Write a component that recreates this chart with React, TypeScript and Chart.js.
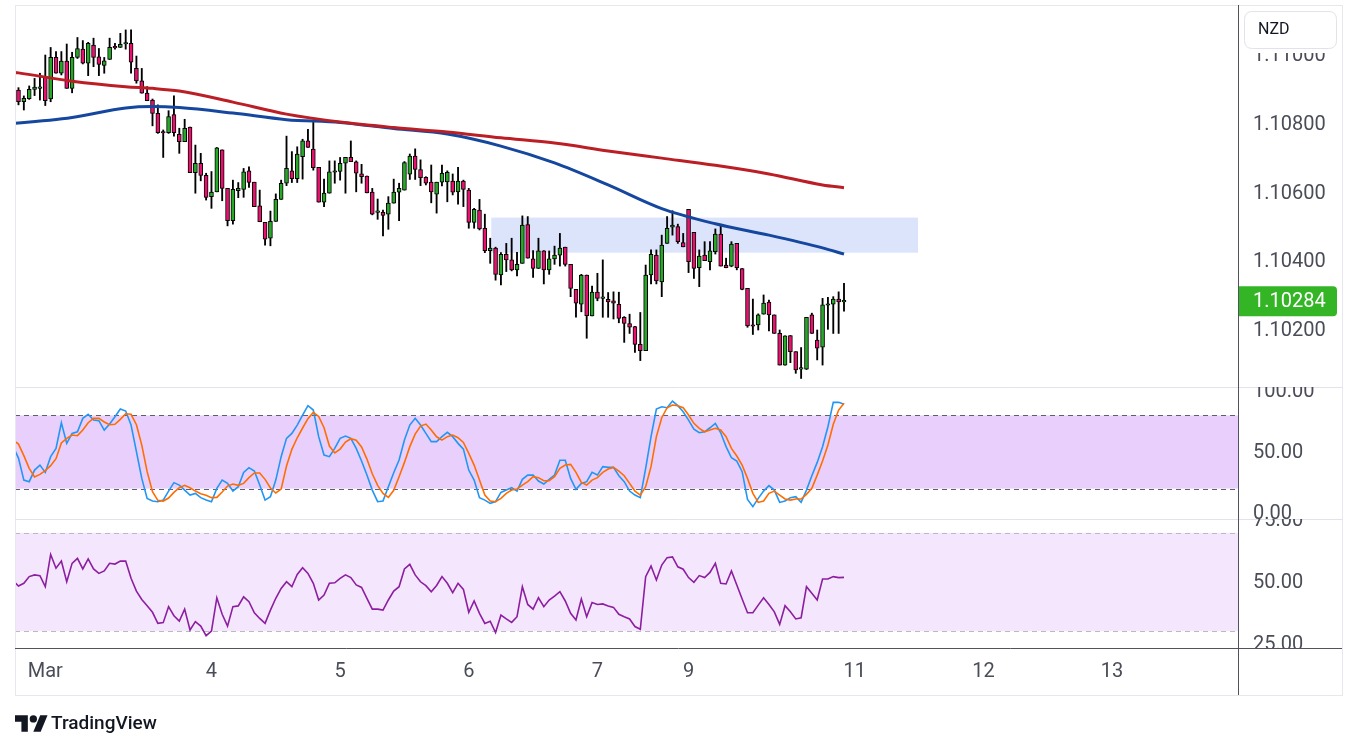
import React, { useEffect, useRef } from 'react';
import { Chart, registerables } from 'chart.js';

Chart.register(...registerables);

// ---------- DATA ----------
const OPEN = [
  1.10898, 1.10864, 1.10873, 1.10900, 1.10903, 1.10935, 1.10872, 1.10993, 1.10947, 1.10982,
  1.10903, 1.10993, 1.11017, 1.10976, 1.11029, 1.10995, 1.10970, 1.10987, 1.11022, 1.11022,
  1.11032, 1.11034, 1.10961, 1.10925, 1.10889, 1.10869, 1.10830, 1.10774, 1.10774, 1.10827,
  1.10769, 1.10748, 1.10790, 1.10658, 1.10685, 1.10650, 1.10588, 1.10602, 1.10724, 1.10612,
  1.10518, 1.10605, 1.10609, 1.10663, 1.10630, 1.10561, 1.10513, 1.10467, 1.10516, 1.10580,
  1.10627, 1.10663, 1.10640, 1.10704, 1.10750, 1.10726, 1.10673, 1.10572, 1.10598, 1.10659,
  1.10661, 1.10685, 1.10702, 1.10689, 1.10654, 1.10648, 1.10601, 1.10542, 1.10542, 1.10537,
  1.10569, 1.10601, 1.10607, 1.10653, 1.10706, 1.10667, 1.10644, 1.10630, 1.10595, 1.10630,
  1.10631, 1.10633, 1.10602, 1.10633, 1.10607, 1.10513, 1.10549, 1.10496, 1.10431, 1.10438,
  1.10360, 1.10420, 1.10404, 1.10375, 1.10394, 1.10507, 1.10407, 1.10379, 1.10430, 1.10375,
  1.10407, 1.10418, 1.10441, 1.10391, 1.10318, 1.10275, 1.10360, 1.10241, 1.10310, 1.10292,
  1.10289, 1.10285, 1.10275, 1.10237, 1.10219, 1.10210, 1.10158, 1.10140, 1.10360, 1.10418,
  1.10340, 1.10452, 1.10499, 1.10501, 1.10454, 1.10551, 1.10484, 1.10381, 1.10418, 1.10399,
  1.10428, 1.10479, 1.10389, 1.10386, 1.10452, 1.10379, 1.10321, 1.10212, 1.10215, 1.10246,
  1.10281, 1.10244, 1.10190, 1.10098, 1.10184, 1.10137, 1.10086, 1.10086, 1.10244, 1.10171,
  1.10150, 1.10272, 1.10275, 1.10290, 1.10282,
];
const HIGH = [
  1.10905, 1.10881, 1.10910, 1.10932, 1.10947, 1.11000, 1.11022, 1.11010, 1.11010, 1.11032,
  1.11008, 1.11051, 1.11042, 1.11037, 1.11049, 1.11019, 1.10993, 1.11049, 1.11034, 1.11063,
  1.11073, 1.11073, 1.10997, 1.10961, 1.10908, 1.10872, 1.10855, 1.10782, 1.10838, 1.10881,
  1.10787, 1.10813, 1.10790, 1.10738, 1.10714, 1.10656, 1.10661, 1.10731, 1.10724, 1.10612,
  1.10636, 1.10629, 1.10670, 1.10675, 1.10630, 1.10607, 1.10513, 1.10546, 1.10596, 1.10636,
  1.10764, 1.10719, 1.10733, 1.10755, 1.10784, 1.10811, 1.10673, 1.10639, 1.10692, 1.10692,
  1.10702, 1.10702, 1.10750, 1.10692, 1.10682, 1.10648, 1.10612, 1.10581, 1.10549, 1.10588,
  1.10639, 1.10627, 1.10690, 1.10712, 1.10727, 1.10695, 1.10646, 1.10680, 1.10630, 1.10680,
  1.10663, 1.10654, 1.10673, 1.10636, 1.10612, 1.10554, 1.10580, 1.10537, 1.10467, 1.10441,
  1.10425, 1.10452, 1.10467, 1.10426, 1.10532, 1.10530, 1.10431, 1.10467, 1.10431, 1.10430,
  1.10444, 1.10481, 1.10441, 1.10391, 1.10318, 1.10362, 1.10360, 1.10328, 1.10365, 1.10404,
  1.10309, 1.10311, 1.10310, 1.10239, 1.10246, 1.10211, 1.10251, 1.10389, 1.10433, 1.10433,
  1.10476, 1.10530, 1.10547, 1.10508, 1.10481, 1.10551, 1.10484, 1.10433, 1.10457, 1.10457,
  1.10494, 1.10507, 1.10409, 1.10457, 1.10452, 1.10379, 1.10321, 1.10290, 1.10247, 1.10302,
  1.10287, 1.10244, 1.10200, 1.10183, 1.10184, 1.10137, 1.10149, 1.10237, 1.10249, 1.10200,
  1.10292, 1.10295, 1.10297, 1.10311, 1.10336,
];
const LOW = [
  1.10855, 1.10840, 1.10871, 1.10882, 1.10869, 1.10853, 1.10864, 1.10947, 1.10942, 1.10903,
  1.10890, 1.10990, 1.10974, 1.10940, 1.10966, 1.10940, 1.10947, 1.10987, 1.11017, 1.11022,
  1.11017, 1.10947, 1.10918, 1.10889, 1.10867, 1.10794, 1.10772, 1.10702, 1.10772, 1.10764,
  1.10714, 1.10748, 1.10658, 1.10598, 1.10634, 1.10578, 1.10554, 1.10602, 1.10576, 1.10503,
  1.10508, 1.10585, 1.10586, 1.10615, 1.10559, 1.10515, 1.10447, 1.10445, 1.10516, 1.10580,
  1.10620, 1.10629, 1.10629, 1.10639, 1.10731, 1.10665, 1.10572, 1.10559, 1.10598, 1.10627,
  1.10636, 1.10598, 1.10690, 1.10602, 1.10627, 1.10599, 1.10535, 1.10522, 1.10474, 1.10493,
  1.10569, 1.10518, 1.10607, 1.10638, 1.10638, 1.10620, 1.10622, 1.10570, 1.10540, 1.10619,
  1.10573, 1.10593, 1.10566, 1.10559, 1.10496, 1.10496, 1.10491, 1.10425, 1.10394, 1.10345,
  1.10331, 1.10370, 1.10372, 1.10357, 1.10394, 1.10409, 1.10353, 1.10379, 1.10334, 1.10362,
  1.10391, 1.10386, 1.10386, 1.10297, 1.10237, 1.10253, 1.10176, 1.10241, 1.10285, 1.10237,
  1.10237, 1.10232, 1.10221, 1.10164, 1.10190, 1.10135, 1.10111, 1.10140, 1.10334, 1.10334,
  1.10297, 1.10452, 1.10476, 1.10452, 1.10442, 1.10367, 1.10350, 1.10326, 1.10402, 1.10375,
  1.10421, 1.10386, 1.10381, 1.10384, 1.10375, 1.10317, 1.10208, 1.10187, 1.10200, 1.10246,
  1.10197, 1.10190, 1.10098, 1.10098, 1.10105, 1.10074, 1.10059, 1.10085, 1.10190, 1.10113,
  1.10098, 1.10202, 1.10190, 1.10190, 1.10255,
];
const CLOSE = [
  1.10864, 1.10874, 1.10900, 1.10907, 1.10904, 1.10867, 1.10993, 1.10947, 1.10982, 1.10903,
  1.10993, 1.11019, 1.10976, 1.11034, 1.10993, 1.10973, 1.10983, 1.11022, 1.11021, 1.11031,
  1.11034, 1.10979, 1.10925, 1.10889, 1.10867, 1.10830, 1.10774, 1.10773, 1.10821, 1.10774,
  1.10748, 1.10787, 1.10658, 1.10685, 1.10650, 1.10586, 1.10601, 1.10730, 1.10612, 1.10518,
  1.10609, 1.10612, 1.10660, 1.10629, 1.10559, 1.10515, 1.10464, 1.10516, 1.10580, 1.10627,
  1.10670, 1.10640, 1.10712, 1.10750, 1.10731, 1.10672, 1.10572, 1.10598, 1.10660, 1.10663,
  1.10685, 1.10702, 1.10690, 1.10656, 1.10646, 1.10599, 1.10537, 1.10542, 1.10533, 1.10569,
  1.10601, 1.10612, 1.10687, 1.10706, 1.10667, 1.10643, 1.10627, 1.10602, 1.10630, 1.10656,
  1.10659, 1.10601, 1.10633, 1.10609, 1.10513, 1.10551, 1.10494, 1.10431, 1.10438, 1.10362,
  1.10420, 1.10404, 1.10375, 1.10391, 1.10505, 1.10409, 1.10379, 1.10430, 1.10375, 1.10407,
  1.10418, 1.10438, 1.10391, 1.10321, 1.10278, 1.10360, 1.10242, 1.10310, 1.10292, 1.10296,
  1.10282, 1.10278, 1.10234, 1.10219, 1.10208, 1.10158, 1.10140, 1.10360, 1.10420, 1.10343,
  1.10447, 1.10496, 1.10505, 1.10457, 1.10442, 1.10399, 1.10379, 1.10415, 1.10402, 1.10430,
  1.10479, 1.10386, 1.10381, 1.10450, 1.10381, 1.10318, 1.10212, 1.10211, 1.10244, 1.10278,
  1.10244, 1.10190, 1.10098, 1.10183, 1.10137, 1.10084, 1.10087, 1.10237, 1.10190, 1.10147,
  1.10273, 1.10276, 1.10290, 1.10282, 1.10284,
];

// moving averages (sampled at bar indices; -1 is the bar just left of the view)
const MA_IDX = [-1, 0, 10, 20, 25, 30, 40, 50, 60, 70, 80, 90, 100, 110, 120, 130, 140, 150, 154];
const MA_SLOW = [1.10950, 1.10948, 1.10924, 1.10908, 1.10903, 1.10895, 1.10863, 1.10828, 1.10805, 1.10789, 1.10776, 1.10759, 1.10744, 1.10721, 1.10700, 1.10679, 1.10654, 1.10622, 1.10614];
const MA_FAST = [1.10801, 1.10802, 1.10818, 1.10846, 1.10850, 1.10847, 1.10831, 1.10812, 1.10804, 1.10786, 1.10770, 1.10735, 1.10686, 1.10622, 1.10553, 1.10509, 1.10476, 1.10439, 1.10421];

// oscillator values of the bar just left of the view
const STOCH_K_PREV = 54.4;
const STOCH_D_PREV = 59.8;
const RSI_PREV = 50.5;

const STOCH_K = [
  45.0, 27.0, 25.7, 35.2, 39.3, 33.3, 46.2, 53.0, 74.0, 57.1,
  65.3, 66.6, 77.6, 80.9, 76.2, 75.7, 68.0, 73.0, 78.9, 85.2,
  83.6, 72.1, 50.3, 28.4, 12.0, 9.8, 9.3, 10.6, 18.0, 24.9,
  22.9, 18.8, 14.7, 16.1, 12.6, 10.6, 9.3, 20.2, 27.0, 24.3,
  18.0, 21.6, 33.3, 37.2, 34.4, 22.9, 10.6, 13.4, 27.0, 46.2,
  61.2, 65.3, 72.1, 80.3, 88.0, 84.4, 62.6, 47.5, 46.2, 53.0,
  61.2, 63.1, 61.2, 53.0, 42.6, 31.1, 18.8, 9.3, 9.8, 21.6,
  33.0, 43.4, 59.8, 72.1, 77.6, 72.1, 65.3, 58.5, 58.5, 62.6,
  66.1, 62.6, 57.1, 52.4, 35.2, 27.0, 12.6, 10.6, 7.9, 9.3,
  16.9, 18.8, 20.8, 18.0, 27.6, 31.1, 31.1, 26.2, 23.8, 27.6,
  31.1, 43.2, 43.2, 28.4, 19.4, 24.3, 25.7, 33.3, 31.1, 38.0,
  37.4, 37.4, 30.6, 25.7, 18.0, 14.7, 12.6, 36.6, 62.6, 85.2,
  87.1, 86.3, 91.8, 88.0, 83.0, 76.2, 68.8, 65.8, 66.6, 69.9,
  73.5, 65.8, 54.4, 45.3, 42.6, 33.9, 11.2, 5.2, 12.0, 18.0,
  22.4, 18.8, 8.7, 9.8, 12.6, 13.4, 8.7, 18.8, 30.6, 41.5,
  54.4, 70.7, 90.7, 90.7, 89.1,
];
const STOCH_D = [
  56.5, 47.0, 36.6, 29.5, 31.7, 34.7, 38.8, 44.5, 57.4, 61.2,
  63.9, 63.4, 68.0, 74.0, 77.6, 77.6, 74.6, 72.4, 72.7, 76.8,
  81.4, 80.9, 72.4, 55.7, 33.9, 17.5, 10.4, 9.8, 12.3, 16.9,
  20.7, 22.7, 20.7, 18.0, 15.8, 14.5, 12.6, 12.8, 17.2, 22.1,
  23.8, 22.7, 24.3, 29.0, 32.8, 32.8, 27.6, 20.5, 16.4, 19.6,
  38.5, 52.2, 61.7, 69.7, 77.3, 82.5, 79.2, 69.9, 54.9, 49.2,
  52.4, 58.2, 60.9, 59.6, 54.1, 44.2, 32.2, 22.7, 16.1, 12.8,
  18.6, 29.8, 41.5, 54.4, 64.7, 71.3, 72.9, 68.0, 62.5, 59.8,
  62.6, 63.9, 61.7, 57.9, 48.9, 39.3, 27.0, 14.7, 9.8, 9.3,
  12.0, 16.1, 18.8, 19.7, 22.9, 25.7, 29.8, 29.0, 26.5, 26.5,
  29.8, 36.6, 39.3, 39.9, 33.3, 25.1, 22.9, 27.0, 29.0, 33.3,
  36.0, 37.4, 34.4, 30.6, 24.3, 18.0, 14.7, 21.6, 38.0, 62.6,
  78.1, 86.3, 88.5, 88.0, 86.3, 80.3, 73.5, 69.4, 66.6, 68.0,
  69.4, 68.0, 62.6, 53.0, 46.7, 39.3, 28.4, 16.1, 8.7, 9.8,
  16.1, 18.0, 14.7, 11.5, 10.6, 11.5, 11.5, 15.3, 20.2, 31.1,
  42.6, 55.7, 72.7, 84.4, 89.9,
];
const RSI = [
  48.4, 49.5, 52.2, 52.9, 52.6, 48.1, 61.2, 55.6, 58.5, 50.1,
  57.6, 59.6, 55.3, 59.4, 55.3, 53.5, 54.5, 57.6, 57.3, 58.5,
  58.5, 51.5, 46.3, 42.9, 40.4, 37.7, 33.2, 33.5, 40.0, 36.3,
  34.1, 39.0, 30.5, 33.9, 32.1, 28.2, 30.1, 43.6, 36.9, 32.1,
  40.0, 40.3, 44.0, 42.0, 37.5, 35.2, 33.2, 38.6, 43.4, 47.4,
  50.1, 48.1, 53.1, 55.8, 53.5, 49.5, 42.7, 44.7, 49.5, 49.7,
  51.5, 52.9, 51.8, 48.8, 47.8, 43.4, 39.0, 39.0, 38.6, 42.7,
  46.3, 48.1, 55.3, 57.2, 52.9, 50.1, 48.5, 46.0, 48.6, 52.2,
  49.5, 45.7, 49.5, 47.0, 37.7, 42.3, 37.3, 33.2, 34.1, 29.5,
  36.6, 35.0, 33.6, 35.9, 48.1, 40.9, 39.0, 43.6, 40.0, 42.7,
  44.3, 46.1, 42.3, 37.3, 34.6, 43.1, 35.9, 41.7, 40.9, 41.1,
  40.3, 39.7, 36.9, 35.9, 35.0, 31.9, 30.8, 52.2, 56.5, 50.8,
  56.9, 59.9, 60.2, 56.2, 55.2, 51.8, 49.9, 52.6, 51.8, 53.9,
  57.6, 49.5, 49.2, 54.5, 48.8, 43.1, 37.5, 37.5, 40.6, 43.6,
  40.9, 37.9, 32.8, 40.4, 37.9, 35.0, 35.5, 48.1, 45.4, 42.7,
  51.2, 51.2, 52.2, 51.8, 51.9,
];

// supply/resistance zone (bar index range, price range)
const ZONE_IDX = [88.2, 167.8];
const ZONE_PRICE = [1.10425, 1.10527];

// tick labels
const PRICE_TICKS = [1.102, 1.104, 1.106, 1.108, 1.11];
const STOCH_TICKS = [0, 50, 100];
const RSI_TICKS = [25, 50, 75];
const STOCH_BANDS = [20, 80];
const RSI_BANDS = [30, 70];
const DATE_IDX = [5, 36, 60, 84, 108, 125, 156, 180, 204];
const DATE_LABELS = ['Mar', '4', '5', '6', '7', '9', '11', '12', '13'];
const CURRENCY = 'NZD';

// ---------- STYLE ----------
const FONT = 'Roboto, "Noto Sans", "DejaVu Sans", sans-serif';
const UP = '#27a827';
const DOWN = '#e8126e';
const AXIS_TEXT = '#4a4d57';

function rr(ctx: CanvasRenderingContext2D, x: number, y: number, w: number, h: number, r: number[]) {
  const [tl, tr, br, bl] = r;
  ctx.beginPath();
  ctx.moveTo(x + tl, y);
  ctx.lineTo(x + w - tr, y);
  ctx.quadraticCurveTo(x + w, y, x + w, y + tr);
  ctx.lineTo(x + w, y + h - br);
  ctx.quadraticCurveTo(x + w, y + h, x + w - br, y + h);
  ctx.lineTo(x + bl, y + h);
  ctx.quadraticCurveTo(x, y + h, x, y + h - bl);
  ctx.lineTo(x, y + tl);
  ctx.quadraticCurveTo(x, y, x + tl, y);
  ctx.closePath();
}

const decor = {
  id: 'decor',
  beforeDatasetsDraw(chart: any) {
    const { ctx, chartArea: a, scales } = chart;
    const xs = scales.x, yp = scales.yPrice, ys = scales.yStoch, yr = scales.yRsi;
    ctx.save();
    // zone
    const zx0 = xs.getPixelForValue(ZONE_IDX[0]);
    const zx1 = xs.getPixelForValue(ZONE_IDX[1]);
    const zy0 = yp.getPixelForValue(ZONE_PRICE[1]);
    const zy1 = yp.getPixelForValue(ZONE_PRICE[0]);
    ctx.fillStyle = '#dce4fc';
    ctx.fillRect(zx0, zy0, zx1 - zx0, zy1 - zy0);
    // stoch band
    const s1 = ys.getPixelForValue(STOCH_BANDS[1]);
    const s0 = ys.getPixelForValue(STOCH_BANDS[0]);
    ctx.fillStyle = '#e9d0fc';
    ctx.fillRect(a.left, s1, a.right - a.left, s0 - s1);
    // rsi band
    const r1 = yr.getPixelForValue(RSI_BANDS[1]);
    const r0 = yr.getPixelForValue(RSI_BANDS[0]);
    ctx.fillStyle = '#f4e6fd';
    ctx.fillRect(a.left, r1, a.right - a.left, r0 - r1);
    // dashed lines
    ctx.lineWidth = 1;
    ctx.setLineDash([5, 4]);
    ctx.strokeStyle = '#5d606b';
    [s1, s0].forEach((y: number) => {
      ctx.beginPath();
      ctx.moveTo(a.left, Math.round(y) + 0.5);
      ctx.lineTo(a.right, Math.round(y) + 0.5);
      ctx.stroke();
    });
    ctx.strokeStyle = '#b8bbc4';
    [r1, r0].forEach((y: number) => {
      ctx.beginPath();
      ctx.moveTo(a.left, Math.round(y) + 0.5);
      ctx.lineTo(a.right, Math.round(y) + 0.5);
      ctx.stroke();
    });
    ctx.restore();
  },
  afterDraw(chart: any) {
    const { ctx, chartArea: a, scales } = chart;
    const xs = scales.x, yp = scales.yPrice, ys = scales.yStoch, yr = scales.yRsi;
    const right = 1342;
    const bottom = 695;
    ctx.save();
    ctx.lineWidth = 1;
    ctx.setLineDash([]);
    // outer frame
    ctx.strokeStyle = '#e6e8ee';
    ctx.strokeRect(15.5, 5.5, right - 15, bottom - 5);
    // pane separators
    ctx.strokeStyle = '#e0e3eb';
    [yp.bottom, ys.bottom].forEach((y: number) => {
      ctx.beginPath();
      ctx.moveTo(15, Math.round(y) + 0.5);
      ctx.lineTo(right, Math.round(y) + 0.5);
      ctx.stroke();
    });
    // time axis line and price axis line
    ctx.strokeStyle = '#50535e';
    ctx.beginPath();
    ctx.moveTo(15, Math.round(yr.bottom) + 0.5);
    ctx.lineTo(right, Math.round(yr.bottom) + 0.5);
    ctx.stroke();
    ctx.beginPath();
    ctx.moveTo(Math.round(a.right) + 0.5, 5);
    ctx.lineTo(Math.round(a.right) + 0.5, bottom);
    ctx.stroke();

    // axis labels, clipped per pane
    ctx.font = `20px ${FONT}`;
    ctx.fillStyle = AXIS_TEXT;
    ctx.textBaseline = 'middle';
    ctx.textAlign = 'left';
    const lx = a.right + 15;
    const drawPane = (scale: any, ticks: number[], dec: number, top: number, bot: number) => {
      ctx.save();
      ctx.beginPath();
      ctx.rect(a.right + 1, top, right - a.right - 1, bot - top);
      ctx.clip();
      ticks.forEach((t) => {
        ctx.fillText(t.toFixed(dec), lx, scale.getPixelForValue(t) + 1);
      });
      ctx.restore();
    };
    drawPane(yp, PRICE_TICKS, 5, yp.top, yp.bottom);
    drawPane(ys, STOCH_TICKS, 2, ys.top, ys.bottom + 3);
    drawPane(yr, RSI_TICKS, 2, yr.top, yr.bottom);

    // last price tag
    const last = CLOSE[CLOSE.length - 1];
    const lastUp = last >= OPEN[OPEN.length - 1];
    const py = yp.getPixelForValue(last);
    ctx.fillStyle = lastUp ? '#34b526' : DOWN;
    rr(ctx, a.right + 1, py - 15, 98, 30, [0, 4, 4, 0]);
    ctx.fill();
    ctx.fillStyle = '#ffffff';
    ctx.fillText(last.toFixed(5), lx, py + 1);

    // currency box (with white margin that hides the label beneath)
    ctx.fillStyle = '#ffffff';
    ctx.fillRect(a.right + 1, 6, right - a.right - 2, 47);
    rr(ctx, 1244.5, 11.5, 92, 37, [8, 8, 8, 8]);
    ctx.fill();
    ctx.strokeStyle = '#e0e3eb';
    ctx.stroke();
    ctx.font = `16px ${FONT}`;
    ctx.fillStyle = '#131722';
    ctx.fillText(CURRENCY, 1258, 30);

    // date labels
    ctx.font = `20px ${FONT}`;
    ctx.fillStyle = AXIS_TEXT;
    ctx.textAlign = 'center';
    DATE_IDX.forEach((d, k) => {
      const x = xs.getPixelForValue(d);
      if (x < a.right - 10) ctx.fillText(DATE_LABELS[k], x, 672);
    });
    ctx.restore();
  },
};

export default function App() {
  const ref = useRef<HTMLCanvasElement>(null);
  useEffect(() => {
    const idx = OPEN.map((_, i) => i);
    const wick = idx.map((i) => ({ x: i, y: [LOW[i], HIGH[i]] }));
    const body = idx.map((i) => ({ x: i, y: [Math.min(OPEN[i], CLOSE[i]), Math.max(OPEN[i], CLOSE[i])] }));
    const bodyColors = idx.map((i) => (CLOSE[i] >= OPEN[i] ? UP : DOWN));
    const line = (prev: number, arr: number[]) => [{ x: -1, y: prev }, ...arr.map((v, i) => ({ x: i, y: v }))];
    const ma = (arr: number[]) => arr.map((v, k) => ({ x: MA_IDX[k], y: v }));

    const chart = new Chart(ref.current as HTMLCanvasElement, {
      type: 'bar',
      data: {
        datasets: [
          {
            type: 'line', label: 'RSI', data: line(RSI_PREV, RSI), yAxisID: 'yRsi', borderColor: '#8c1ea0',
            borderWidth: 1.6, pointRadius: 0, tension: 0, order: 0,
          } as any,
          {
            type: 'line', label: '%D', data: line(STOCH_D_PREV, STOCH_D), yAxisID: 'yStoch', borderColor: '#ff6d00',
            borderWidth: 1.6, pointRadius: 0, tension: 0, order: 1,
          } as any,
          {
            type: 'line', label: '%K', data: line(STOCH_K_PREV, STOCH_K), yAxisID: 'yStoch', borderColor: '#2196f3',
            borderWidth: 1.6, pointRadius: 0, tension: 0, order: 2,
          } as any,
          {
            type: 'line', label: 'MA slow', data: ma(MA_SLOW), yAxisID: 'yPrice', borderColor: '#bb1e25',
            borderWidth: 3, pointRadius: 0, cubicInterpolationMode: 'monotone', order: 3,
          } as any,
          {
            type: 'line', label: 'MA fast', data: ma(MA_FAST), yAxisID: 'yPrice', borderColor: '#15479f',
            borderWidth: 3, pointRadius: 0, cubicInterpolationMode: 'monotone', order: 4,
          } as any,
          {
            type: 'bar', label: 'body', data: body, yAxisID: 'yPrice', backgroundColor: bodyColors,
            borderColor: '#000000', borderWidth: 1, borderSkipped: false, barThickness: 4,
            minBarLength: 1.5, grouped: false, order: 5,
          } as any,
          {
            type: 'bar', label: 'wick', data: wick, yAxisID: 'yPrice', backgroundColor: '#000000',
            borderWidth: 0, barThickness: 1.2, grouped: false, order: 6,
          } as any,
        ],
      },
      options: {
        animation: false,
        responsive: false,
        events: [],
        layout: { padding: { left: 15, right: 120, top: 5, bottom: 101 } },
        plugins: { legend: { display: false }, tooltip: { enabled: false } },
        scales: {
          x: { type: 'linear', min: -0.65, max: 227.5, offset: false, display: false },
          yPrice: {
            type: 'linear', position: 'right', stack: 'panes', stackWeight: 382,
            min: 1.100342, max: 1.111455, display: false, beginAtZero: false,
          },
          yStoch: {
            type: 'linear', position: 'right', stack: 'panes', stackWeight: 132,
            min: -4.9, max: 103.3, display: false, beginAtZero: false,
          },
          yRsi: {
            type: 'linear', position: 'right', stack: 'panes', stackWeight: 129,
            min: 23.2, max: 75.6, display: false, beginAtZero: false,
          },
        } as any,
      },
      plugins: [decor],
    } as any);
    return () => chart.destroy();
  }, []);

  return (
    <div style={{ position: 'fixed', left: 0, top: 0, width: 1358, height: 749, background: '#ffffff', overflow: 'hidden' }}>
      <canvas ref={ref} width={1358} height={749} style={{ position: 'absolute', left: 0, top: 0, width: 1358, height: 749 }} />
      <div style={{ position: 'absolute', left: 15, top: 711, height: 24, display: 'flex', alignItems: 'center', gap: 3 }}>
        <svg width="33" height="17" viewBox="0 4 36 18" aria-hidden="true">
          <path d="M14 22H7V11H0V4h14v18z" fill="#131722" />
          <circle cx="20" cy="8" r="4" fill="#131722" />
          <path d="M28 22h-8l7.5-18h8L28 22z" fill="#131722" />
        </svg>
        <span style={{ fontFamily: FONT, fontSize: 19, fontWeight: 500, color: '#131722', lineHeight: '24px' }}>TradingView</span>
      </div>
    </div>
  );
}
